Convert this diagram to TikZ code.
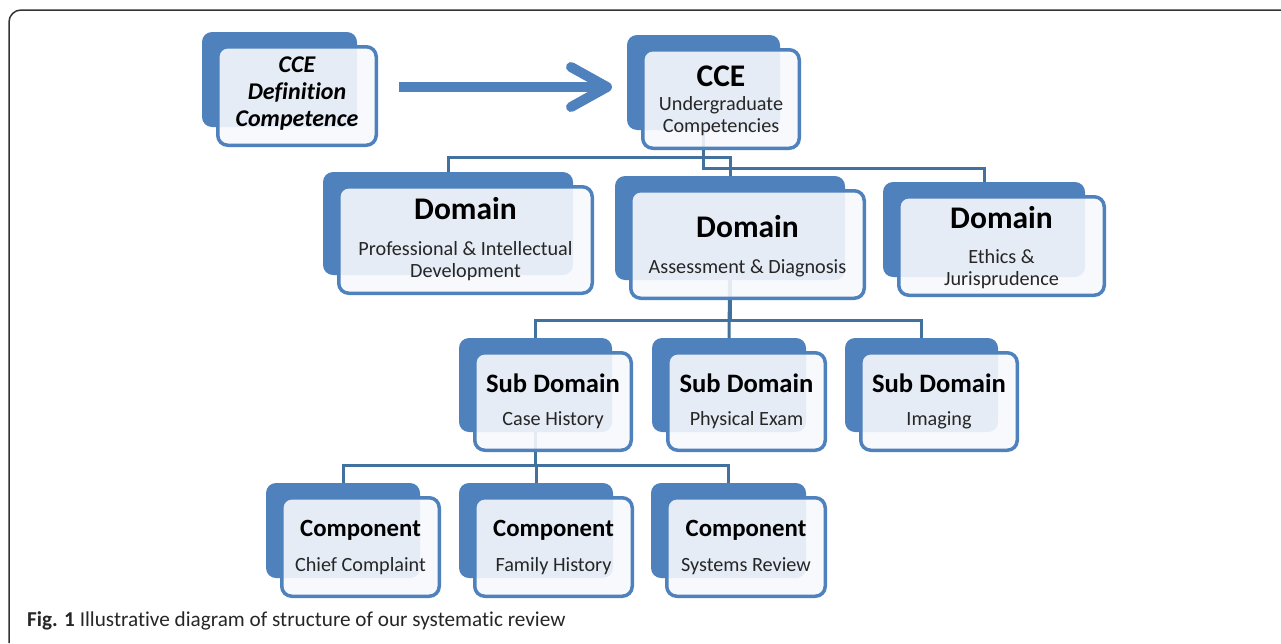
\documentclass[tikz,border=0pt]{standalone}
\usepackage{fontspec}
\setmainfont{Carlito}[Ligatures=NoCommon]
\usetikzlibrary{arrows.meta,backgrounds}

\definecolor{cardblue}{HTML}{4F81BD}
\definecolor{linkblue}{HTML}{41719C}
\definecolor{cardface}{HTML}{F6F8FC}
\definecolor{subtext}{HTML}{262626}
\definecolor{framegray}{HTML}{333333}

% back plate + front face of one card, back top-left at (#2,#3)
\newcommand{\card}[5]{%
  \node[backcard, minimum width={#4}, minimum height={#5}] (#1B) at (#2,#3) {};
  \node[frontcard, minimum width={#4+3.5}, minimum height={#5+3.5}] (#1) at ({#2+15.75},{#3+14.75}) {};
}

\begin{document}
\begin{tikzpicture}[x=1pt, y=-1pt,
    backcard/.style={anchor=north west, fill=cardblue, rounded corners=10pt, inner sep=0pt, outer sep=0pt},
    frontcard/.style={anchor=north west, draw=cardblue, line width=3.5pt, fill=cardface, fill opacity=0.9, rounded corners=10pt, inner sep=0pt, outer sep=0pt},
    conn/.style={draw=linkblue, line width=3pt},
    bigarrow/.style={draw=cardblue, line width=10pt, -{Straight Barb[length=36pt, width=40pt, round]}},
    hdbig/.style={font=\fontsize{31.5}{31.5}\selectfont\bfseries, inner sep=0pt},
    hdmid/.style={font=\fontsize{26.6}{26.6}\selectfont\bfseries, inner sep=0pt},
    hdsmall/.style={font=\fontsize{24.8}{24.8}\selectfont\bfseries, inner sep=0pt},
    subline/.style={font=\fontsize{20.2}{22}\selectfont, text=subtext, align=center, inner sep=0pt},
    frameline/.style={draw=framegray, line width=1.5pt, rounded corners=12pt}]
  \useasboundingbox (0,0) rectangle (1281,643);
  \draw[frameline] (9,643) -- (9,10) -- (1281,10);

  % bus levels
  \coordinate (busA) at (0,157);
  \coordinate (busB) at (0,168);
  \coordinate (busC) at (0,320);
  \coordinate (busD) at (0,465);
  \coordinate (arrowrow) at (0,87);

  % cards
  \card{cdef}{202}{32}{155}{95}
  \card{cce}{627}{35}{153}{95}
  \card{dom1}{323}{172}{250}{103}
  \card{dom2}{615}{176}{230}{104}
  \card{dom3}{883}{182}{202}{95}
  \card{sub1}{459}{338}{153}{94}
  \card{sub2}{652}{338}{154}{94}
  \card{sub3}{845}{338}{153}{94}
  \card{comp1}{266}{483}{154}{95}
  \card{comp2}{459}{483}{154}{95}
  \card{comp3}{651}{483}{155}{95}

  % links, behind the cards
  \begin{pgfonlayer}{background}
    \draw[conn] (cceB.center) |- (dom1B |- busA) -- (dom1B.north);
    \draw[conn] (cceB.center) |- (dom2B |- busA) -- (dom2B.north);
    \draw[conn] (cceB.center) |- (dom3B |- busB) -- (dom3B.north);
    \draw[conn] (dom2B.center) |- (sub1B |- busC) -- (sub1B.north);
    \draw[conn] (dom2B.center) -- (sub2B.north);
    \draw[conn] (dom2B.center) |- (sub3B |- busC) -- (sub3B.north);
    \draw[conn] (sub1B.center) |- (comp1B |- busD) -- (comp1B.north);
    \draw[conn] (sub1B.center) |- (comp2B |- busD) -- (comp2B.north);
    \draw[conn] (sub1B.center) |- (comp3B |- busD) -- (comp3B.north);
  \end{pgfonlayer}

  % texts
  \node[font=\fontsize{24}{27}\selectfont\bfseries\itshape, align=center, inner sep=0pt] (cdeft) at ([yshift=2pt]cdef.center) {CCE\\Definition\\Competence};
  \node[hdbig] (cceh) at ([yshift=23pt]cce.center) {CCE};
  \node[subline] (cces) at ([yshift=-17pt]cce.center) {Undergraduate\\Competencies};
  \node[hdbig] (dom1h) at ([yshift=31.5pt]dom1.center) {Domain};
  \node[subline] (dom1s) at ([yshift=-21pt]dom1.center) {Professional \& Intellectual\\Development};
  \node[hdbig] (dom2h) at ([yshift=18pt]dom2.center) {Domain};
  \node[subline] (dom2s) at ([yshift=-24pt]dom2.center) {Assessment \& Diagnosis};
  \node[hdbig] (dom3h) at ([yshift=28.5pt]dom3.center) {Domain};
  \node[subline] (dom3s) at ([yshift=-23.5pt]dom3.center) {Ethics \&\\Jurisprudence};
  \node[hdmid] (sub1h) at ([yshift=18pt]sub1.center) {Sub Domain};
  \node[subline] (sub1s) at ([yshift=-19pt]sub1.center) {Case History};
  \node[hdmid] (sub2h) at ([yshift=18pt]sub2.center) {Sub Domain};
  \node[subline] (sub2s) at ([yshift=-19pt]sub2.center) {Physical Exam};
  \node[hdmid] (sub3h) at ([yshift=18pt]sub3.center) {Sub Domain};
  \node[subline] (sub3s) at ([yshift=-19pt]sub3.center) {Imaging};
  \node[hdsmall] (comp1h) at ([yshift=16.5pt]comp1.center) {Component};
  \node[subline] (comp1s) at ([yshift=-19.5pt]comp1.center) {Chief Complaint};
  \node[hdsmall] (comp2h) at ([yshift=16.5pt]comp2.center) {Component};
  \node[subline] (comp2s) at ([yshift=-19.5pt]comp2.center) {Family History};
  \node[hdsmall] (comp3h) at ([yshift=16.5pt]comp3.center) {Component};
  \node[subline] (comp3s) at ([yshift=-19.5pt]comp3.center) {Systems Review};

  \draw[bigarrow, shorten <=23pt, shorten >=15pt] (cdef.east |- arrowrow) -- (cceB.west |- arrowrow);

  \node[font=\fontsize{21.2}{24}\selectfont, text=subtext, anchor=base west, inner sep=0pt] (caption) at (27,626)
    {\textbf{Fig. 1} Illustrative diagram of structure of our systematic review};
\end{tikzpicture}
\end{document}
